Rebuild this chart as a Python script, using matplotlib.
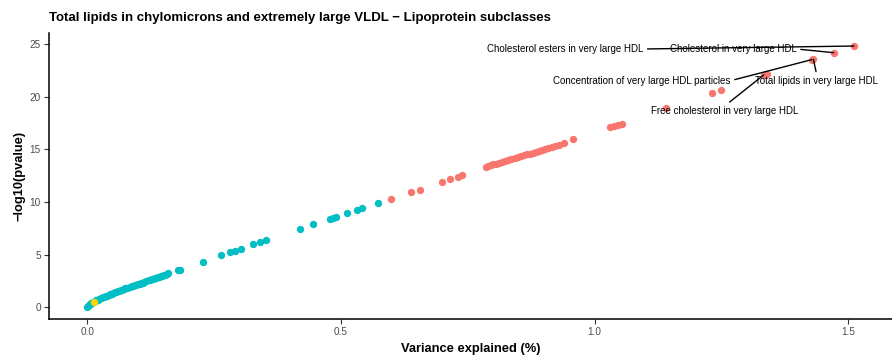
import matplotlib
matplotlib.use("Agg")
import matplotlib.pyplot as plt

plt.rcParams["font.family"] = ["Liberation Sans", "DejaVu Sans"]

# teal: not significant-ish group
teal_x = [0.000, 0.002, 0.004, 0.006, 0.008, 0.010, 0.012, 0.015, 0.018, 0.021,
          0.024, 0.027, 0.030, 0.033, 0.036, 0.039, 0.042, 0.045, 0.048, 0.051,
          0.054, 0.057, 0.060, 0.063, 0.066, 0.069, 0.072, 0.075, 0.078,
          0.085, 0.088, 0.091, 0.094, 0.097, 0.100, 0.103, 0.106, 0.109, 0.112,
          0.115, 0.121, 0.124, 0.127, 0.130, 0.133, 0.136, 0.139, 0.142, 0.145,
          0.148, 0.151, 0.154, 0.157, 0.160, 0.178, 0.183, 0.228, 0.263, 0.281,
          0.292, 0.303, 0.326, 0.340, 0.353, 0.419, 0.445, 0.478, 0.485, 0.490,
          0.511, 0.532, 0.542, 0.572]
teal_y = [0.00, 0.12, 0.22, 0.30, 0.37, 0.44, 0.50, 0.58, 0.66, 0.73,
          0.80, 0.87, 0.94, 1.00, 1.06, 1.12, 1.18, 1.24, 1.30, 1.36,
          1.41, 1.47, 1.52, 1.58, 1.63, 1.69, 1.74, 1.79, 1.84,
          1.95, 2.00, 2.05, 2.10, 2.15, 2.20, 2.25, 2.30, 2.35, 2.40,
          2.45, 2.55, 2.60, 2.65, 2.70, 2.75, 2.80, 2.85, 2.90, 2.95,
          3.00, 3.05, 3.10, 3.16, 3.21, 3.50, 3.57, 4.33, 4.97, 5.22,
          5.38, 5.57, 5.98, 6.17, 6.39, 7.41, 7.88, 8.36, 8.47, 8.55,
          8.93, 9.24, 9.40, 9.88]

red_x = [0.598, 0.638, 0.655, 0.700, 0.714, 0.731, 0.739,
         0.785, 0.790, 0.795, 0.800, 0.806, 0.812, 0.818, 0.824, 0.830, 0.836,
         0.842, 0.848, 0.854, 0.860, 0.866, 0.872, 0.878, 0.884, 0.890, 0.896,
         0.902, 0.908, 0.915, 0.922, 0.929, 0.940, 0.957,
         1.030, 1.038, 1.045, 1.053, 1.141, 1.231, 1.248, 1.333, 1.340,
         1.428, 1.431, 1.471, 1.511]
red_y = [10.26, 10.92, 11.14, 11.93, 12.16, 12.40, 12.56,
         13.35, 13.42, 13.49, 13.57, 13.65, 13.74, 13.83, 13.91, 14.00, 14.08,
         14.17, 14.26, 14.34, 14.43, 14.52, 14.60, 14.69, 14.78, 14.86, 14.95,
         15.04, 15.12, 15.22, 15.32, 15.43, 15.63, 15.95,
         17.12, 17.22, 17.33, 17.45, 18.90, 20.38, 20.64, 22.06, 22.16,
         23.52, 23.57, 24.18, 24.81]

# highlighted trait
gold_x = [0.0124]
gold_y = [0.53]

# labelled points
label_text = ["Cholesterol esters in very large HDL",
              "Cholesterol in very large HDL",
              "Concentration of very large HDL particles",
              "Total lipids in very large HDL",
              "Free cholesterol in very large HDL"]
label_px = [1.511, 1.471, 1.428, 1.431, 1.333]
label_py = [24.81, 24.18, 23.52, 23.57, 22.06]
label_tx = [1.096, 1.273, 1.268, 1.438, 1.257]
label_ty = [24.53, 24.53, 21.52, 21.52, 18.67]
label_ha = ["right", "center", "right", "center", "center"]
label_rel = [(1, 0.5), (1, 0.5), (1, 0.5), (0.5, 1), (0.5, 1)]

fig = plt.figure(figsize=(8.92, 3.57), dpi=100)
ax = fig.add_axes([0.0549, 0.1056, 0.9451, 0.8020])

ax.scatter(teal_x, teal_y, s=28, color="#00BFC4", linewidths=0, zorder=2)
ax.scatter(red_x, red_y, s=28, color="#F8766D", linewidths=0, zorder=2)
ax.scatter(gold_x, gold_y, s=28, color="#FFD700", linewidths=0, zorder=3)

for t, px, py, tx, ty, ha, rel in zip(label_text, label_px, label_py, label_tx,
                                      label_ty, label_ha, label_rel):
    ax.annotate(t, xy=(px, py), xytext=(tx, ty), ha=ha, va="center",
                fontsize=7, color="black", zorder=4,
                arrowprops=dict(arrowstyle="-", color="black", lw=1.0,
                                shrinkA=1, shrinkB=0, relpos=rel))

ax.set_xlim(-0.0755, 1.586)
ax.set_ylim(-1.14, 26.05)
ax.set_xticks([0.0, 0.5, 1.0, 1.5])
ax.set_xticklabels(["0.0", "0.5", "1.0", "1.5"])
ax.set_yticks([0, 5, 10, 15, 20, 25])

for side in ["top", "right"]:
    ax.spines[side].set_visible(False)
for side in ["left", "bottom"]:
    ax.spines[side].set_linewidth(1.1)
ax.tick_params(axis="both", labelsize=7.2, labelcolor="#4D4D4D", color="#333333",
               length=3.3, width=0.8, pad=2.5)

ax.set_xlabel("Variance explained (%)", fontsize=9.3, fontweight="bold", labelpad=4)
ax.set_ylabel("\u2212log10(pvalue)", fontsize=9.3, fontweight="bold", labelpad=3)
ax.set_title("Total lipids in chylomicrons and extremely large VLDL \u2212 Lipoprotein subclasses",
             loc="left", fontsize=9.5, fontweight="bold", pad=8.6)

fig.savefig("out.png", dpi=100)
